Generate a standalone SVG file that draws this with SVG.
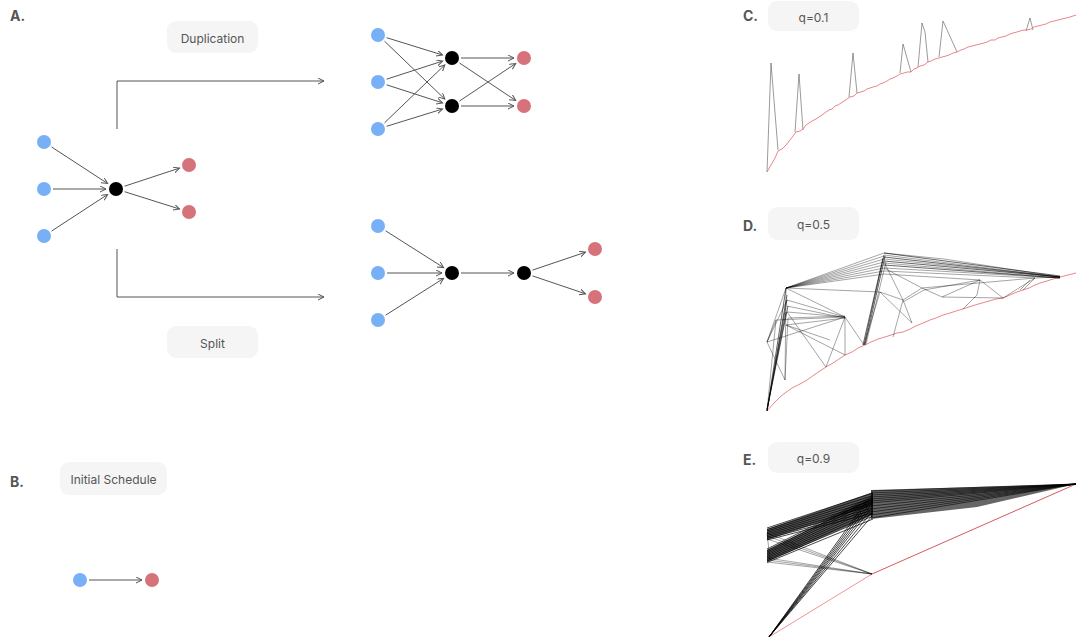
<svg xmlns="http://www.w3.org/2000/svg" width="1076" height="638" viewBox="0 0 1076 638">
<style>
.lbl{font-family:Inter,"Liberation Sans",sans-serif;font-weight:700;font-size:14px;fill:#555}
.pill rect{fill:#f5f5f5}
.pill text{font-family:Inter,"Liberation Sans",sans-serif;font-size:12px;fill:#555;text-anchor:middle;dominant-baseline:central}
.b{fill:#78b0f8}.r{fill:#d6737a}.k{fill:#000}
.e{stroke:#555;stroke-width:1;fill:none;marker-end:url(#ah)}
.red{stroke:#e4676b;stroke-width:0.8;fill:none}
.sp{stroke:#555;stroke-width:0.6;fill:none}
.n{stroke:#000;stroke-width:0.55;stroke-opacity:0.65;fill:none}
.nd{stroke:#000;stroke-width:0.7;stroke-opacity:0.85;fill:none}
.f{stroke:#000;stroke-width:0.9;stroke-opacity:0.8;fill:none}
</style>
<defs>
<marker id="ah" markerUnits="userSpaceOnUse" markerWidth="8" markerHeight="8" refX="6" refY="3" orient="auto">
<path d="M0,0 L6,3 L0,6" fill="none" stroke="#555" stroke-width="1"/>
</marker>
</defs>
<rect width="1076" height="638" fill="#fff"/>
<text class="lbl" x="10" y="21">A.</text>
<text class="lbl" x="10" y="487">B.</text>
<text class="lbl" x="743" y="21">C.</text>
<text class="lbl" x="743" y="231">D.</text>
<text class="lbl" x="743" y="465">E.</text>
<g id="pill-dup" class="pill"><rect x="167" y="21" width="91" height="32" rx="9"/><text x="212.5" y="38">Duplication</text></g>
<g id="pill-split" class="pill"><rect x="167" y="326" width="91" height="32" rx="9"/><text x="212.5" y="343">Split</text></g>
<g id="pill-init" class="pill"><rect x="60" y="462" width="107" height="33" rx="9"/><text x="113.5" y="479">Initial Schedule</text></g>
<g id="pill-c" class="pill"><rect x="768" y="1" width="91" height="30" rx="9"/><text x="813.5" y="17">q=0.1</text></g>
<g id="pill-d" class="pill"><rect x="768" y="207" width="91" height="33" rx="9"/><text x="813.5" y="224">q=0.5</text></g>
<g id="pill-e" class="pill"><rect x="768" y="442" width="91" height="31" rx="9"/><text x="813.5" y="458">q=0.9</text></g>
<g id="connectors">
<path class="e" d="M117,129 V81 H324"/>
<path class="e" d="M117,249 V297 H324"/>
<line class="e" x1="51.5" y1="146.9" x2="107.6" y2="183.5"/>
<line class="e" x1="53" y1="189" x2="106" y2="189"/>
<line class="e" x1="51.5" y1="231.1" x2="107.6" y2="194.5"/>
<line class="e" x1="124.6" y1="186.2" x2="179.5" y2="168.1"/>
<line class="e" x1="124.6" y1="191.7" x2="179.5" y2="209"/>
<line class="e" x1="386.6" y1="37.7" x2="442.5" y2="55"/>
<line class="e" x1="384.5" y1="41.2" x2="444.8" y2="99.1"/>
<line class="e" x1="386.6" y1="79.2" x2="442.5" y2="61.1"/>
<line class="e" x1="386.6" y1="84.8" x2="442.5" y2="102.9"/>
<line class="e" x1="384.5" y1="122.8" x2="444.8" y2="64.9"/>
<line class="e" x1="386.6" y1="126.3" x2="442.5" y2="109"/>
<line class="e" x1="461" y1="58" x2="514" y2="58"/>
<line class="e" x1="459.5" y1="63" x2="515.7" y2="100.5"/>
<line class="e" x1="459.5" y1="101" x2="515.7" y2="63.5"/>
<line class="e" x1="461" y1="106" x2="514" y2="106"/>
<line class="e" x1="385.6" y1="230.8" x2="443.6" y2="267.6"/>
<line class="e" x1="387" y1="273" x2="442" y2="273"/>
<line class="e" x1="385.6" y1="315.2" x2="443.6" y2="278.4"/>
<line class="e" x1="461" y1="273" x2="514" y2="273"/>
<line class="e" x1="532.5" y1="270.1" x2="585.5" y2="252.2"/>
<line class="e" x1="532.5" y1="275.9" x2="585.5" y2="293.8"/>
<line class="e" x1="89" y1="580" x2="142" y2="580"/>
</g>
<g id="nodes-a">
<circle id="a-in1" class="b" cx="44" cy="142" r="7"/>
<circle id="a-in2" class="b" cx="44" cy="189" r="7"/>
<circle id="a-in3" class="b" cx="44" cy="236" r="7"/>
<circle id="a-op" class="k" cx="116" cy="189" r="7"/>
<circle id="a-out1" class="r" cx="189" cy="165" r="7"/>
<circle id="a-out2" class="r" cx="189" cy="212" r="7"/>
</g>
<g id="nodes-dup">
<circle id="d-in1" class="b" cx="378" cy="35" r="7"/>
<circle id="d-in2" class="b" cx="378" cy="82" r="7"/>
<circle id="d-in3" class="b" cx="378" cy="129" r="7"/>
<circle id="d-op1" class="k" cx="452" cy="58" r="7"/>
<circle id="d-op2" class="k" cx="452" cy="106" r="7"/>
<circle id="d-out1" class="r" cx="524" cy="58" r="7"/>
<circle id="d-out2" class="r" cx="524" cy="106" r="7"/>
</g>
<g id="nodes-split">
<circle id="s-in1" class="b" cx="378" cy="226" r="7"/>
<circle id="s-in2" class="b" cx="378" cy="273" r="7"/>
<circle id="s-in3" class="b" cx="378" cy="320" r="7"/>
<circle id="s-op1" class="k" cx="452" cy="273" r="7"/>
<circle id="s-op2" class="k" cx="524" cy="273" r="7"/>
<circle id="s-out1" class="r" cx="595" cy="249" r="7"/>
<circle id="s-out2" class="r" cx="595" cy="297" r="7"/>
</g>
<g id="nodes-b">
<circle id="b-in" class="b" cx="80" cy="580" r="7"/>
<circle id="b-out" class="r" cx="152" cy="580" r="7"/>
</g>
<g id="plot-c">
<polyline class="sp" points="767,172 771,63 778,150"/>
<polyline class="sp" points="795,132 799,74 803,130"/>
<polyline class="sp" points="849,97 853,53 857,93"/>
<polyline class="sp" points="900,73 903,44 911,72"/>
<polyline class="sp" points="918,67 922,23 925,32 928,62"/>
<polyline class="sp" points="939,57 943,21 957,52"/>
<polyline class="sp" points="1026,31 1030,18 1033,30"/>
<polyline class="red" points="767,172 771,165 775,158 778,151 782,149 786,145 790,140 793,136 796,132 800,131 803,129 806,125 809,123 812,121 816,119 819,117 822,115 826,112 829,110 832,109 835,106 838,105 841,103 844,101 847,99 850,97 854,96 857,93 861,92 864,91 867,89 870,88 873,87 877,86 880,84 883,83 887,81 890,79 893,78 897,76 900,74 904,73 907,72 911,72 914,69 917,68 920,66 924,65 928,62 931,61 935,59 939,58 942,57 946,56 949,55 953,53 957,52 961,50 964,49 968,47 972,46 976,45 980,44 984,43 987,42 991,40 995,40 998,38 1002,37 1006,36 1010,34 1013,33 1017,32 1020,31 1024,30 1027,30 1031,29 1034,27 1038,26 1042,25 1046,24 1050,22 1054,21 1058,20 1062,19 1066,18 1070,17 1073,16 1076,15"/>
</g>
<g id="plot-d">
<polyline class="red" points="767,411 774,403 780,397 785,393 792,388 800,384 807,380 814,375 820,371 826,367 833,363 839,359 845,355 852,352 858,348 865,345 871,342 878,339 885,337 891,335 897,333 903,332 910,329 916,326 923,323 930,320 936,318 943,315 950,313 956,311 963,309 969,307 975,305 982,303 989,301 996,299 1003,298 1010,295 1017,292 1023,290 1029,288 1035,285 1040,283 1047,281 1053,279 1060,277 1068,275 1076,273"/>
<line class="nd" x1="767" y1="411" x2="786" y2="288"/>
<line class="nd" x1="767" y1="411" x2="787" y2="295"/>
<line class="nd" x1="767" y1="411" x2="787" y2="300"/>
<line class="nd" x1="767" y1="410" x2="788" y2="306"/>
<line class="nd" x1="767" y1="409" x2="786" y2="312"/>
<line class="n" x1="767" y1="411" x2="776" y2="320"/>
<line class="n" x1="767" y1="342" x2="786" y2="288"/>
<line class="n" x1="767" y1="342" x2="787" y2="300"/>
<line class="n" x1="767" y1="342" x2="785" y2="380"/>
<line class="n" x1="767" y1="342" x2="776" y2="320"/>
<line class="n" x1="767" y1="342" x2="845" y2="317"/>
<line class="n" x1="776" y1="320" x2="845" y2="317"/>
<line class="n" x1="787" y1="300" x2="845" y2="317"/>
<line class="n" x1="787" y1="306" x2="845" y2="318"/>
<line class="n" x1="787" y1="312" x2="845" y2="317"/>
<line class="n" x1="788" y1="318" x2="845" y2="316"/>
<line class="n" x1="786" y1="325" x2="845" y2="318"/>
<line class="n" x1="786" y1="325" x2="830" y2="340"/>
<line class="n" x1="787" y1="312" x2="826" y2="367"/>
<line class="n" x1="786" y1="325" x2="845" y2="355"/>
<line class="n" x1="788" y1="318" x2="785" y2="380"/>
<line class="n" x1="845" y1="317" x2="826" y2="367"/>
<line class="n" x1="845" y1="317" x2="864" y2="345"/>
<line class="n" x1="845" y1="317" x2="845" y2="355"/>
<line class="n" x1="786" y1="288" x2="845" y2="317"/>
<line class="n" x1="786" y1="288" x2="880" y2="292"/>
<line class="n" x1="786" y1="288" x2="884" y2="253"/>
<line class="n" x1="786" y1="288" x2="884" y2="256"/>
<line class="n" x1="786" y1="288" x2="884" y2="259"/>
<line class="n" x1="786" y1="288" x2="884" y2="262"/>
<line class="n" x1="786" y1="288" x2="884" y2="265"/>
<line class="n" x1="786" y1="288" x2="884" y2="268"/>
<line class="n" x1="786" y1="288" x2="884" y2="271"/>
<line class="n" x1="786" y1="288" x2="884" y2="274"/>
<line class="nd" x1="884" y1="255" x2="864" y2="345"/>
<line class="nd" x1="885" y1="256" x2="865" y2="345"/>
<line class="nd" x1="883" y1="258" x2="863" y2="345"/>
<line class="n" x1="886" y1="262" x2="866" y2="344"/>
<line class="n" x1="880" y1="292" x2="864" y2="345"/>
<line class="n" x1="880" y1="292" x2="903" y2="300"/>
<line class="n" x1="880" y1="292" x2="912" y2="323"/>
<line class="n" x1="903" y1="300" x2="912" y2="323"/>
<line class="n" x1="903" y1="300" x2="922" y2="288"/>
<line class="n" x1="903" y1="302" x2="924" y2="290"/>
<line class="n" x1="903" y1="300" x2="893" y2="337"/>
<line class="n" x1="922" y1="288" x2="942" y2="297"/>
<line class="n" x1="924" y1="290" x2="980" y2="280"/>
<line class="n" x1="922" y1="288" x2="1035" y2="278"/>
<line class="n" x1="942" y1="297" x2="980" y2="280"/>
<line class="n" x1="942" y1="297" x2="1003" y2="298"/>
<line class="n" x1="980" y1="280" x2="977" y2="295"/>
<line class="n" x1="980" y1="280" x2="1003" y2="298"/>
<line class="n" x1="977" y1="295" x2="963" y2="309"/>
<line class="n" x1="1003" y1="298" x2="1035" y2="278"/>
<line class="n" x1="1035" y1="278" x2="1023" y2="290"/>
<line class="n" x1="1035" y1="278" x2="1060" y2="277"/>
<line class="n" x1="1030" y1="280" x2="1020" y2="290"/>
<line class="nd" x1="884" y1="253" x2="1060" y2="276"/>
<line class="n" x1="884" y1="255" x2="1060" y2="277"/>
<line class="nd" x1="884" y1="257" x2="1060" y2="277"/>
<line class="n" x1="884" y1="259" x2="1060" y2="277"/>
<line class="nd" x1="884" y1="261" x2="1060" y2="277"/>
<line class="n" x1="884" y1="263" x2="1060" y2="278"/>
<line class="nd" x1="884" y1="265" x2="1060" y2="278"/>
<line class="n" x1="884" y1="268" x2="1060" y2="278"/>
<line class="n" x1="884" y1="271" x2="1035" y2="278"/>
<line class="n" x1="884" y1="274" x2="980" y2="280"/>
<line class="n" x1="884" y1="253" x2="944" y2="259"/>
<line class="n" x1="944" y1="259" x2="1060" y2="277"/>
<line class="n" x1="884" y1="262" x2="903" y2="300"/>
<line class="n" x1="884" y1="268" x2="922" y2="288"/>
<line class="n" x1="786" y1="288" x2="785" y2="380"/>
</g>
<g id="plot-e">
<line x1="769" y1="637" x2="872" y2="574" stroke="#e4676b" stroke-width="0.7"/>
<line x1="872" y1="574" x2="1076" y2="484" stroke="#d0454b" stroke-width="0.9"/>
<polygon points="767,529 873,492 873,505 767,540" fill="#000" fill-opacity="0.65"/>
<polygon points="767,550 873,497 873,515 767,562" fill="#000" fill-opacity="0.65"/>
<polygon points="871,490 1076,484 977,507 871,519" fill="#000" fill-opacity="0.6"/>
<line class="f" x1="767" y1="528" x2="873" y2="493"/>
<line class="f" x1="767" y1="529.5" x2="873" y2="495.5"/>
<line class="f" x1="767" y1="531" x2="873" y2="498"/>
<line class="f" x1="767" y1="532.5" x2="873" y2="500.5"/>
<line class="f" x1="767" y1="534" x2="873" y2="503"/>
<line class="f" x1="767" y1="535.5" x2="873" y2="505.5"/>
<line class="f" x1="767" y1="537" x2="873" y2="508"/>
<line class="f" x1="767" y1="538.5" x2="873" y2="510.5"/>
<line class="f" x1="767" y1="540" x2="873" y2="513"/>
<line class="f" x1="767" y1="549" x2="873" y2="496"/>
<line class="f" x1="767" y1="550.5" x2="873" y2="498.5"/>
<line class="f" x1="767" y1="552" x2="873" y2="501"/>
<line class="f" x1="767" y1="553.5" x2="873" y2="503.5"/>
<line class="f" x1="767" y1="555" x2="873" y2="506"/>
<line class="f" x1="767" y1="556.5" x2="873" y2="508.5"/>
<line class="f" x1="767" y1="558" x2="873" y2="511"/>
<line class="f" x1="767" y1="559.5" x2="873" y2="513.5"/>
<line class="f" x1="767" y1="561" x2="873" y2="516"/>
<line class="f" x1="767" y1="562.5" x2="873" y2="519"/>
<line class="f" x1="769" y1="637" x2="866" y2="502"/>
<line class="f" x1="769" y1="637" x2="867" y2="504"/>
<line class="f" x1="769" y1="637" x2="868" y2="506"/>
<line class="f" x1="769" y1="637" x2="869" y2="508"/>
<line class="f" x1="769" y1="637" x2="870" y2="510"/>
<line class="f" x1="769" y1="637" x2="871" y2="513"/>
<line class="f" x1="769" y1="637" x2="872" y2="516"/>
<line class="nd" x1="871" y1="491" x2="1076" y2="484"/>
<line class="nd" x1="871" y1="493" x2="1076" y2="484"/>
<line class="nd" x1="871" y1="495" x2="1076" y2="484"/>
<line class="nd" x1="871" y1="497" x2="1076" y2="484"/>
<line class="nd" x1="871" y1="499" x2="1076" y2="484"/>
<line class="nd" x1="871" y1="501" x2="1076" y2="484"/>
<line class="nd" x1="871" y1="503" x2="1076" y2="484"/>
<line class="nd" x1="871" y1="506" x2="1076" y2="484"/>
<line class="nd" x1="871" y1="509" x2="1076" y2="484"/>
<line class="nd" x1="871" y1="512" x2="1076" y2="484"/>
<line class="nd" x1="871" y1="515" x2="1076" y2="484"/>
<line class="nd" x1="871" y1="518" x2="1076" y2="484"/>
<line class="n" x1="767" y1="533" x2="872" y2="574"/>
<line class="n" x1="767" y1="536" x2="872" y2="574"/>
<line class="n" x1="767" y1="539" x2="872" y2="574"/>
<line class="n" x1="767" y1="558" x2="872" y2="574"/>
<line class="n" x1="767" y1="560" x2="872" y2="574"/>
<line class="n" x1="767" y1="562" x2="872" y2="574"/>
<line class="n" x1="767" y1="533" x2="770" y2="560"/>
</g>
</svg>
